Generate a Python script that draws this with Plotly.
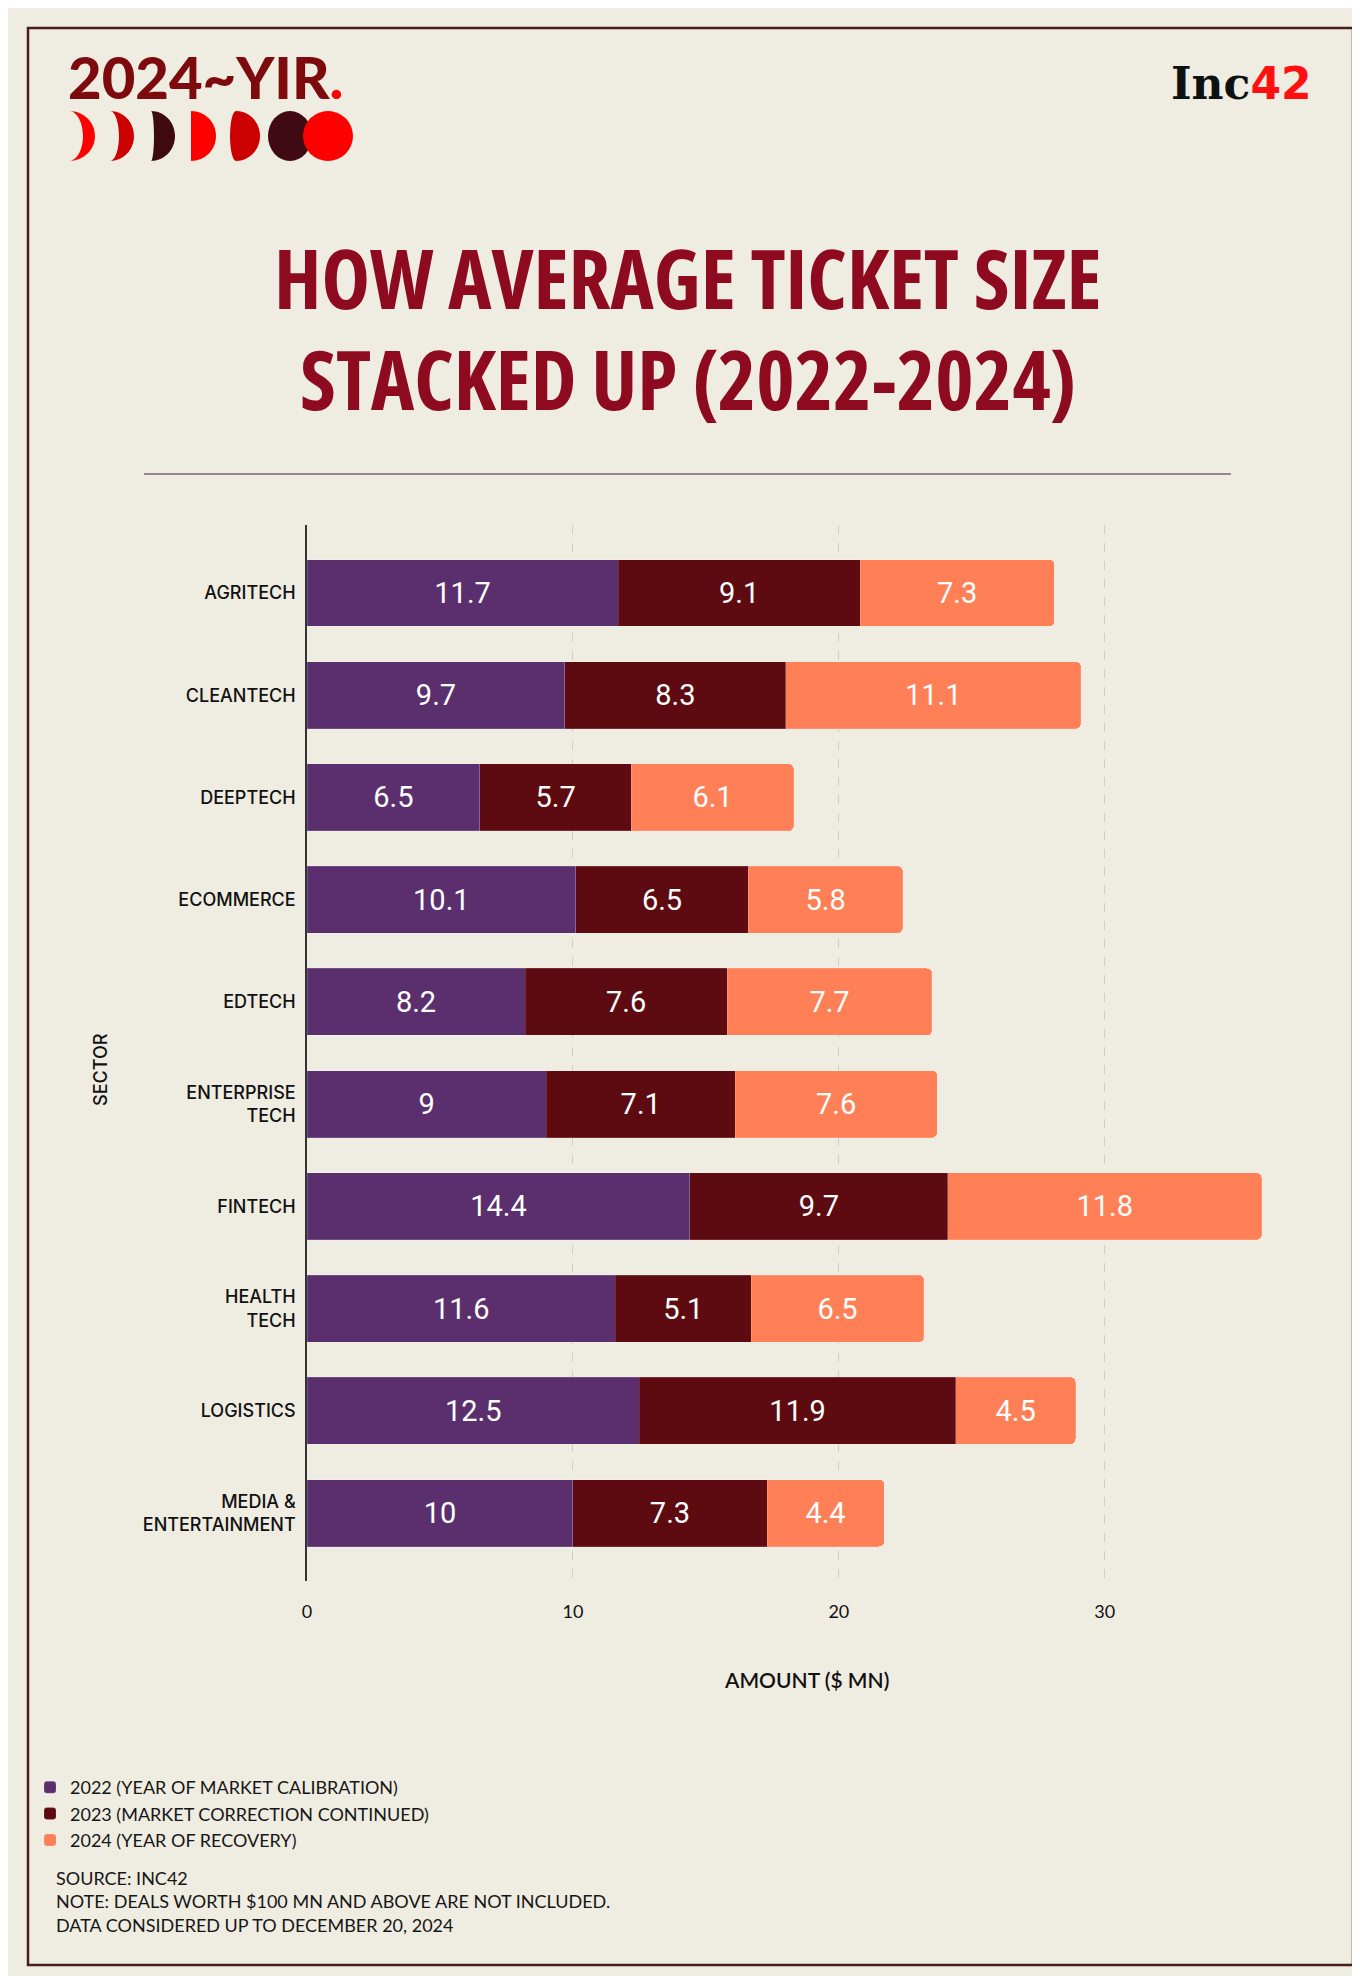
import plotly.graph_objects as go

# ---------------- data ----------------
sectors = ["AGRITECH", "CLEANTECH", "DEEPTECH", "ECOMMERCE", "EDTECH",
           "ENTERPRISE<br>TECH", "FINTECH", "HEALTH<br>TECH", "LOGISTICS",
           "MEDIA &<br>ENTERTAINMENT"]
y2022 = [11.7, 9.7, 6.5, 10.1, 8.2, 9, 14.4, 11.6, 12.5, 10]
y2023 = [9.1, 8.3, 5.7, 6.5, 7.6, 7.1, 9.7, 5.1, 11.9, 7.3]
y2024 = [7.3, 11.1, 6.1, 5.8, 7.7, 7.6, 11.8, 6.5, 4.5, 4.4]
series_names = ["2022 (YEAR OF MARKET CALIBRATION)",
                "2023 (MARKET CORRECTION CONTINUED)",
                "2024 (YEAR OF RECOVERY)"]
x_ticks = [0, 10, 20, 30, 40]

# ---------------- styles ----------------
BG = "#EFECE1"
COLORS = ["#5B2F6E", "#5D0B11", "#FF7F57"]
W, H = 1360, 1976
L, R, T, B = 299, 1330, 517, 1573
PW, PH = R - L, B - T


def px(x):
    return (x - L) / PW


def py(y):
    return (B - y) / PH


fig = go.Figure()
for name, vals, col in zip(series_names, [y2022, y2023, y2024], COLORS):
    fig.add_trace(go.Bar(
        y=sectors, x=vals, name=name, orientation="h",
        marker=dict(color=col, line=dict(width=0.6, color="rgba(255,255,255,0.25)")),
        texttemplate="%{x}", textposition="inside", insidetextanchor="middle",
        textangle=0, constraintext="none",
        textfont=dict(family="Roboto", size=29, color="white"),
        hoverinfo="skip",
    ))

n = len(sectors)
pad = 0.165

shapes = []
shapes.append(dict(type="rect", xref="paper", yref="paper",
                   x0=px(20), x1=px(1345), y0=py(20), y1=py(1957),
                   line=dict(color="#4B1C1E", width=2.5), fillcolor="rgba(0,0,0,0)"))
shapes.append(dict(type="line", xref="paper", yref="paper",
                   x0=px(136), x1=px(1223), y0=py(466), y1=py(466),
                   line=dict(color="#7E6282", width=1.5)))


def moon(cx, cy, rx, ry, rin, color):
    k = 0.5523
    pts = lambda x, y: f"{px(x):.5f},{py(y):.5f}"
    top, bot = cy - ry, cy + ry
    path = (f"M{pts(cx, top)} "
            f"C{pts(cx + k*rx, top)} {pts(cx + rx, cy - k*ry)} {pts(cx + rx, cy)} "
            f"C{pts(cx + rx, cy + k*ry)} {pts(cx + k*rx, bot)} {pts(cx, bot)} "
            f"C{pts(cx + k*rin, bot)} {pts(cx + rin, cy + k*ry)} {pts(cx + rin, cy)} "
            f"C{pts(cx + rin, cy - k*ry)} {pts(cx + k*rin, top)} {pts(cx, top)} Z")
    return dict(type="path", xref="paper", yref="paper", path=path,
                fillcolor=color, line=dict(width=0))


cy_m, ry_m = 128, 25
shapes.append(moon(61, cy_m, 26, ry_m, 14, "#FF0000"))
shapes.append(moon(102, cy_m, 24, ry_m, 9, "#CC0000"))
shapes.append(moon(143, cy_m, 24, ry_m, 3, "#3D0A12"))
shapes.append(moon(183, cy_m, 25, ry_m, 0, "#FF0000"))
shapes.append(moon(228, cy_m, 24, ry_m, -6, "#CC0000"))
shapes.append(dict(type="circle", xref="paper", yref="paper",
                   x0=px(260), x1=px(304), y0=py(103), y1=py(153),
                   fillcolor="#3F0A14", line=dict(width=0)))
shapes.append(dict(type="circle", xref="paper", yref="paper",
                   x0=px(295), x1=px(345), y0=py(103), y1=py(153),
                   fillcolor="#FF0000", line=dict(width=0)))

annotations = []


def ann(text, x, y, size, color="#111111", family="Lato", xanchor="left",
        yanchor="middle", weight=None, angle=0, align="left"):
    f = dict(family=family, size=size, color=color)
    if weight:
        f["weight"] = weight
    annotations.append(dict(text=text, xref="paper", yref="paper", x=px(x), y=py(y),
                            xanchor=xanchor, yanchor=yanchor, showarrow=False,
                            font=f, textangle=angle, align=align))


ann("2024~YIR<span style='color:#FF0000'>.</span>", 58, 69, 58, color="#7D0A0C",
    family="Lato", weight=900)
ann("Inc<span style='color:#FF1010;font-family:DejaVu Sans'>42</span>", 1306, 76, 44,
    color="#0E1111", family="DejaVu Serif", weight=700, xanchor="right")

COND = "<span style='font-stretch:condensed'>{}</span>"
ann(COND.format("HOW AVERAGE TICKET SIZE"), 680, 269, 82, color="#8E0A1E",
    family="Open Sans", weight=700, xanchor="center")
ann(COND.format("STACKED UP (2022-2024)"), 680, 370, 82, color="#8E0A1E",
    family="Open Sans", weight=700, xanchor="center")

ann("AMOUNT ($ MN)", 798, 1671, 21, color="#111111", family="Lato", weight=600,
    xanchor="center")
ann("SECTOR", 92, 1062, 18, color="#111111", family="Inter", weight=500,
    xanchor="center", angle=-90)

ann("SOURCE: INC42<br>NOTE: DEALS WORTH $100 MN AND ABOVE ARE NOT INCLUDED.<br>"
    "DATA CONSIDERED UP TO DECEMBER 20, 2024", 46, 1857, 18, color="#161616",
    family="Lato", yanchor="top")

fig.update_layout(
    width=W, height=H,
    margin=dict(l=L, r=W - R, t=T, b=H - B),
    paper_bgcolor=BG, plot_bgcolor=BG,
    barmode="stack", bargap=0.345, barcornerradius=5,
    showlegend=True,
    legend=dict(x=px(22), y=py(1761), xanchor="left", yanchor="top",
                traceorder="normal", bgcolor="rgba(0,0,0,0)",
                font=dict(family="Lato", size=18, color="#161616"),
                itemclick=False, tracegroupgap=0),
    xaxis=dict(range=[0, 38.77], tickvals=x_ticks, showgrid=True,
               gridcolor="#CFCDC6", griddash="dash", gridwidth=1,
               zeroline=False, showline=False, ticks="",
               tickfont=dict(family="Lato", size=18, color="#111111"),
               ticklabelstandoff=18),
    yaxis=dict(categoryorder="array", categoryarray=sectors,
               range=[n - 0.5 + pad, -0.5 - pad], showgrid=False, zeroline=False,
               showline=True, linecolor="#333333", linewidth=1.5, ticks="",
               tickfont=dict(family="Inter", size=18, color="#111111", weight=500),
               ticklabelstandoff=6),
    shapes=shapes, annotations=annotations,
)

fig.write_html("out.html")
